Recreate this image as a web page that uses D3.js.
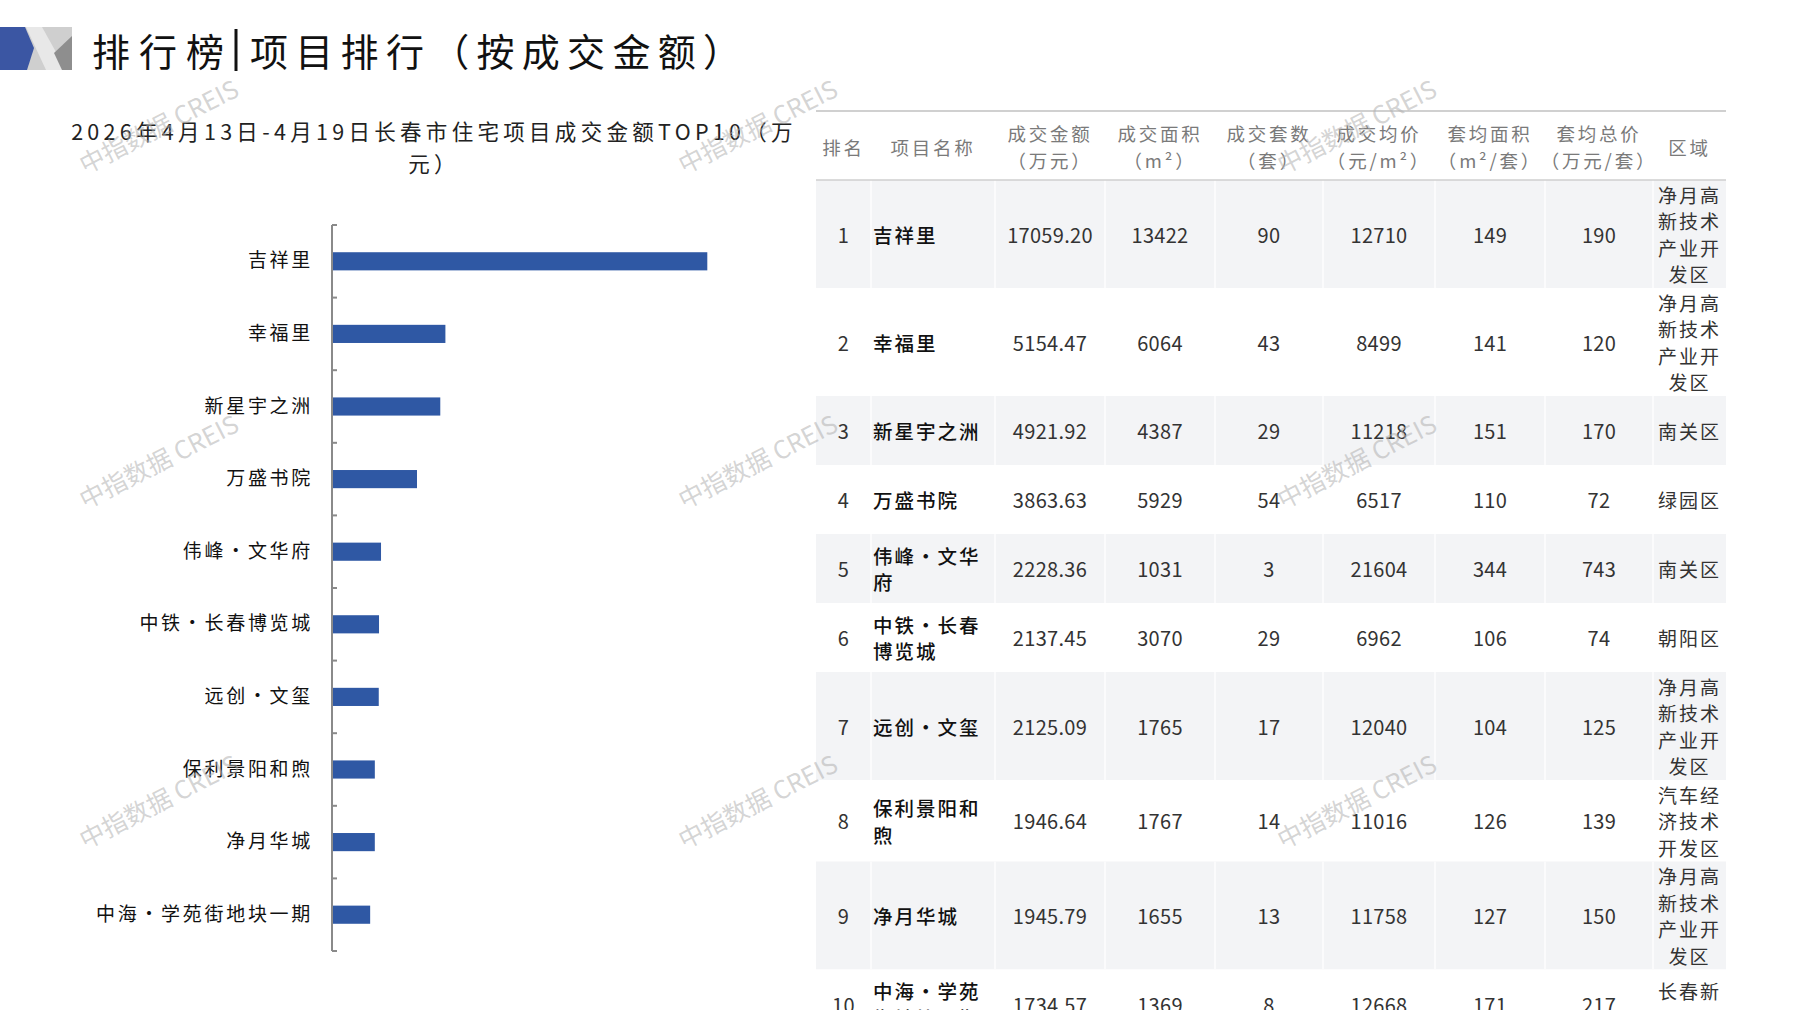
<!DOCTYPE html>
<html>
<head>
<meta charset="utf-8">
<script src="https://cdn.jsdelivr.net/npm/d3@7"></script>
<style>
  html, body { margin: 0; padding: 0; background: #ffffff; }
  svg { display: block; }
</style>
</head>
<body>
<svg id="chart" width="1797" height="1010"></svg>
<script>
// ---------- data ----------
const pageTitleLeft = "排行榜";
const pageTitleRight = "项目排行（按成交金额）";
const chartTitleLines = ["2026年4月13日-4月19日长春市住宅项目成交金额TOP10（万", "元）"];
const watermarkText = "中指数据 CREIS";

const projects = ["吉祥里", "幸福里", "新星宇之洲", "万盛书院", "伟峰·文华府", "中铁·长春博览城", "远创·文玺", "保利景阳和煦", "净月华城", "中海·学苑街地块一期"];
const amounts = [17059.20, 5154.47, 4921.92, 3863.63, 2228.36, 2137.45, 2125.09, 1946.64, 1945.79, 1734.57];
const areas = [13422, 6064, 4387, 5929, 1031, 3070, 1765, 1767, 1655, 1369];
const units = [90, 43, 29, 54, 3, 29, 17, 14, 13, 8];
const avgPrices = [12710, 8499, 11218, 6517, 21604, 6962, 12040, 11016, 11758, 12668];
const avgAreas = [149, 141, 151, 110, 344, 106, 104, 126, 127, 171];
const avgTotals = [190, 120, 170, 72, 743, 74, 125, 139, 150, 217];
const districts = ["净月高新技术产业开发区", "净月高新技术产业开发区", "南关区", "绿园区", "南关区", "朝阳区", "净月高新技术产业开发区", "汽车经济技术开发区", "净月高新技术产业开发区", "长春新区"];
const tableHeaders = [["排名"], ["项目名称"], ["成交金额", "（万元）"], ["成交面积", "（m²）"], ["成交套数", "（套）"], ["成交均价", "（元/m²）"], ["套均面积", "（m²/套）"], ["套均总价", "（万元/套）"], ["区域"]];

// ---------- setup ----------
const svg = d3.select("#chart");
const FONT = "'Noto Sans CJK SC', 'Noto Sans', sans-serif";
const BLUE = "#2f58a4";

// ---------- header icon ----------
const icon = svg.append("g");
icon.append("rect").attr("x", 0).attr("y", 27).attr("width", 72).attr("height", 43).attr("fill", "#cfcfcf");
icon.append("polygon").attr("points", "26,27 42,27 66,70 46,70").attr("fill", "#e8e8e8");
icon.append("polygon").attr("points", "54,53 72,36 72,70 62,70").attr("fill", "#8e8e8e");
icon.append("polygon").attr("points", "0,27 25,27 34,48 27,70 0,70").attr("fill", "#3b56a3");

// ---------- page title ----------
svg.append("text").attr("x", 92).attr("y", 49).attr("dominant-baseline", "central")
  .attr("font-family", FONT).attr("font-size", 38).attr("letter-spacing", 9).attr("fill", "#111")
  .text(pageTitleLeft);
svg.append("line").attr("x1", 236).attr("x2", 236).attr("y1", 29).attr("y2", 71)
  .attr("stroke", "#111").attr("stroke-width", 3);
svg.append("text").attr("x", 250).attr("y", 49).attr("dominant-baseline", "central")
  .attr("font-family", FONT).attr("font-size", 38).attr("letter-spacing", 7.3).attr("fill", "#111")
  .text(pageTitleRight);

// ---------- chart title ----------
svg.append("g").selectAll("text").data(chartTitleLines).join("text")
  .attr("x", 434).attr("y", (d, i) => 130 + i * 32)
  .attr("text-anchor", "middle").attr("dominant-baseline", "central")
  .attr("font-family", FONT).attr("font-size", 21.5).attr("letter-spacing", 4.3)
  .attr("fill", "#222").text(d => d);

// ---------- bar chart ----------
const x = d3.scaleLinear().domain([0, 20000]).range([332, 772]);
const y = d3.scaleBand().domain(projects).range([225, 951]).paddingInner(0.75).paddingOuter(0.375);

svg.append("g").selectAll("rect").data(projects).join("rect")
  .attr("x", x(0)).attr("y", d => y(d))
  .attr("width", (d, i) => x(amounts[i]) - x(0)).attr("height", y.bandwidth())
  .attr("fill", BLUE);

const yAxis = svg.append("g").attr("transform", `translate(${x(0)},0)`)
  .call(d3.axisLeft(y).tickSize(0).tickPadding(19));
yAxis.select(".domain").remove();
yAxis.selectAll("text").attr("font-family", FONT).attr("font-size", 19)
  .attr("letter-spacing", 2.7).attr("fill", "#111");

// axis line and category boundary ticks
const [r0, r1] = y.range();
svg.append("line").attr("x1", x(0)).attr("x2", x(0)).attr("y1", r0).attr("y2", r1)
  .attr("stroke", "#8a8a8a").attr("stroke-width", 2);
const boundaries = d3.range(projects.length + 1).map(i => r0 + i * y.step());
svg.append("g").selectAll("line").data(boundaries).join("line")
  .attr("x1", x(0)).attr("x2", x(0) + 5).attr("y1", d => d).attr("y2", d => d)
  .attr("stroke", "#8a8a8a").attr("stroke-width", 2);

// ---------- table ----------
const colEdges = [816, 871, 995, 1105, 1215, 1323, 1435, 1545, 1653, 1726];
const tableTop = 111, headBottom = 180, lineH = 26.5;

const chunk = (s, n) => {
  const a = Array.from(s), out = [];
  for (let i = 0; i < a.length; i += n) out.push(a.slice(i, i + n).join(""));
  return out;
};

const rows = projects.map((p, i) => {
  const nameLines = chunk(p, 5);
  const distLines = chunk(districts[i], 3);
  const n = Math.max(nameLines.length, distLines.length);
  return {
    cells: [[String(i + 1)], nameLines, [d3.format(".2f")(amounts[i])], [String(areas[i])], [String(units[i])],
            [String(avgPrices[i])], [String(avgAreas[i])], [String(avgTotals[i])], distLines],
    h: Math.max(69, n * lineH + 2)
  };
});
let acc = headBottom;
rows.forEach(r => { r.y = acc; acc += r.h; });

const tbl = svg.append("g");
// row backgrounds
tbl.selectAll("rect.bg").data(rows).join("rect").attr("class", "bg")
  .attr("x", colEdges[0]).attr("y", d => d.y)
  .attr("width", colEdges[colEdges.length - 1] - colEdges[0]).attr("height", d => d.h)
  .attr("fill", (d, i) => i % 2 === 0 ? "#f3f4f6" : "#ffffff");
// faint column separators inside shaded rows
rows.forEach((r, i) => {
  if (i % 2 !== 0) return;
  tbl.append("g").selectAll("line").data(colEdges.slice(1, -1)).join("line")
    .attr("x1", d => d).attr("x2", d => d).attr("y1", r.y).attr("y2", r.y + r.h)
    .attr("stroke", "#fbfbfc").attr("stroke-width", 2);
});
// rules
tbl.append("line").attr("x1", colEdges[0]).attr("x2", colEdges[colEdges.length - 1])
  .attr("y1", tableTop).attr("y2", tableTop).attr("stroke", "#d0d0d0").attr("stroke-width", 2);
tbl.append("line").attr("x1", colEdges[0]).attr("x2", colEdges[colEdges.length - 1])
  .attr("y1", headBottom).attr("y2", headBottom).attr("stroke", "#cfcfcf").attr("stroke-width", 1.5);

// header
tableHeaders.forEach((lines, c) => {
  const cx = (colEdges[c] + colEdges[c + 1]) / 2;
  const cy = (tableTop + headBottom) / 2 + 1;
  tbl.append("g").selectAll("text").data(lines).join("text")
    .attr("x", cx).attr("y", (d, k) => cy + (k - (lines.length - 1) / 2) * 27)
    .attr("text-anchor", "middle").attr("dominant-baseline", "central")
    .attr("font-family", FONT).attr("font-size", 18.5).attr("letter-spacing", 2.8)
    .attr("fill", "#7a7a7a").text(d => d);
});

// body cells
rows.forEach(r => {
  r.cells.forEach((lines, c) => {
    const isName = c === 1, isDist = c === 8;
    const cx = isName ? colEdges[1] + 2 : (colEdges[c] + colEdges[c + 1]) / 2;
    const cy = r.y + r.h / 2;
    tbl.append("g").selectAll("text").data(lines).join("text")
      .attr("x", cx).attr("y", (d, k) => cy + (k - (lines.length - 1) / 2) * lineH)
      .attr("text-anchor", isName ? "start" : "middle").attr("dominant-baseline", "central")
      .attr("font-family", FONT)
      .attr("font-size", isName ? 19.5 : (isDist ? 19 : 20))
      .attr("font-weight", isName ? 500 : 400)
      .attr("letter-spacing", (isName || isDist) ? 2 : 0.3)
      .attr("fill", isName ? "#111" : "#333").text(d => d);
  });
});

// ---------- watermarks ----------
const wmX = [158, 757, 1356], wmY = [125, 460, 800];
const wm = svg.append("g").attr("pointer-events", "none");
wmY.forEach(yy => wmX.forEach(xx => {
  wm.append("text").attr("transform", `translate(${xx},${yy}) rotate(-27)`)
    .attr("text-anchor", "middle").attr("dominant-baseline", "central")
    .attr("font-family", FONT).attr("font-size", 25)
    .attr("fill", "#b0b0b0").attr("fill-opacity", 0.55).text(watermarkText);
}));
</script>
</body>
</html>
